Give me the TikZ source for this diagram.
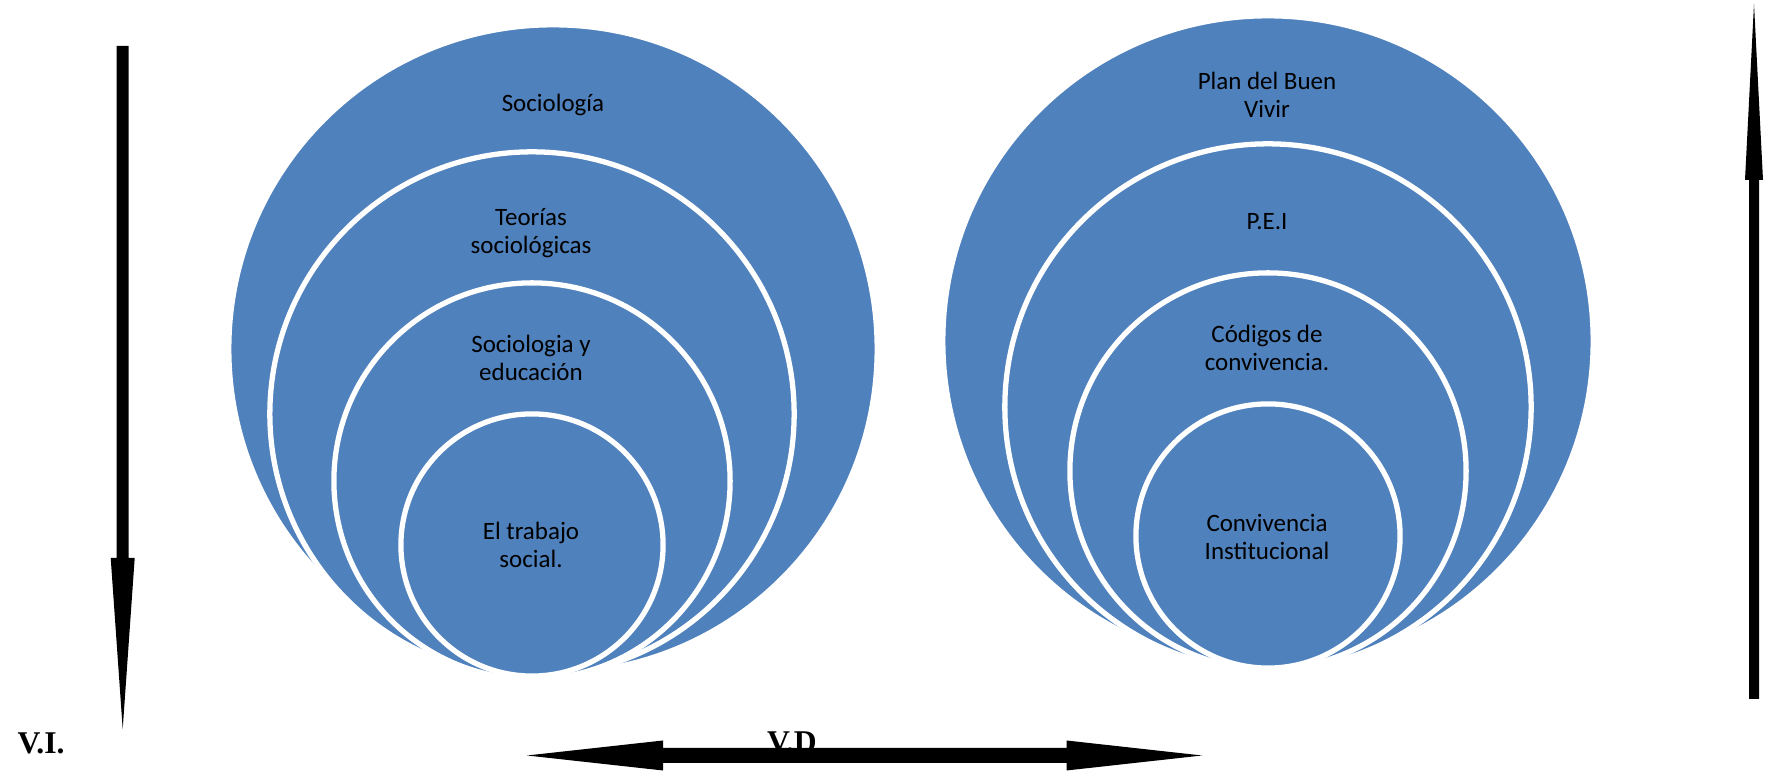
\documentclass[tikz,border=0pt]{standalone}
\usepackage{fontspec}
\setmainfont{Carlito}
\newfontfamily\vfont{Liberation Serif}
\usepackage{tikz}
\usetikzlibrary{positioning,shapes.geometric}
\definecolor{ringblue}{RGB}{79,129,189}
\tikzset{ring/.style={circle, fill=ringblue, draw=white, line width=1.5pt, inner sep=0pt}}
\tikzset{ringtext/.style={align=center, font=\fontsize{7.1}{7.95}\selectfont, inner sep=0pt}}
\tikzset{vlabel/.style={font=\vfont\bfseries\fontsize{9}{10}\selectfont, inner sep=0pt, anchor=base}}
\tikzset{blockarrow/.style={fill=black}}

\begin{document}
\begin{tikzpicture}[x=0.01cm,y=-0.01cm]
    \useasboundingbox (0,0) rectangle (1766,771);

    % left target
    \node[ring, minimum size=6.48cm] (l1) at (553,349) {};
    \node[ring, minimum size=5.24cm] (l2) at (532,414) {};
    \node[ring, minimum size=3.96cm] (l3) at (532,481) {};
    \node[ring, minimum size=2.62cm] (l4) at (532,545) {};

    \node[ringtext] (t1) at (553,105) {Sociología};
    \node[ringtext] (t2) at (531,233) {Teorías\\sociológicas};
    \node[ringtext] (t3) at (531,358) {Sociologia y\\educación};
    \node[ringtext] (t4) at (531,545) {El trabajo\\social.};

    % right target
    \node[ring, minimum size=6.50cm] (r1) at (1268,341) {};
    \node[ring, minimum size=5.26cm] (r2) at (1268,407) {};
    \node[ring, minimum size=3.96cm] (r3) at (1268,471) {};
    \node[ring, minimum size=2.64cm] (r4) at (1268,536) {};

    \node[ringtext] (u1) at (1267,95) {Plan del Buen\\Vivir};
    \node[ringtext] (u2) at (1267,222) {P.E.I};
    \node[ringtext] (u3) at (1267,348) {Códigos de\\convivencia.};
    \node[ringtext] (u4) at (1267,537) {Convivencia\\Institucional};

    % variables
    \node[vlabel] (vi) at (41,754) {V.I.};
    \node[vlabel] (vd) at (792,753) {V.D};

    \coordinate (vitip) at (122.7,729);
    \coordinate (uptip) at (1754,4);
    \coordinate (vdl) at (527,755.5);
    \coordinate (vdr) at (1202,755.5);

    % V.I. arrow, pointing down
    \fill[blockarrow] (116.7,46) -- (128.7,46) -- (128.7,558) -- (134.7,558)
        -- (vitip) -- (110.7,558) -- (116.7,558) -- cycle;
    % arrow on the right, pointing up
    \fill[blockarrow] (1749,699) -- (1759,699) -- (1759,180) -- (1763,180)
        -- (uptip) -- (1745,180) -- (1749,180) -- cycle;
    % V.D arrow, both ways
    \fill[blockarrow] (vdl) -- (663,740.5) -- (663,748) -- (1066.5,748) -- (1066.5,740.5)
        -- (vdr) -- (1066.5,770.5) -- (1066.5,763) -- (663,763) -- (663,770.5) -- cycle;
\end{tikzpicture}
\end{document}
